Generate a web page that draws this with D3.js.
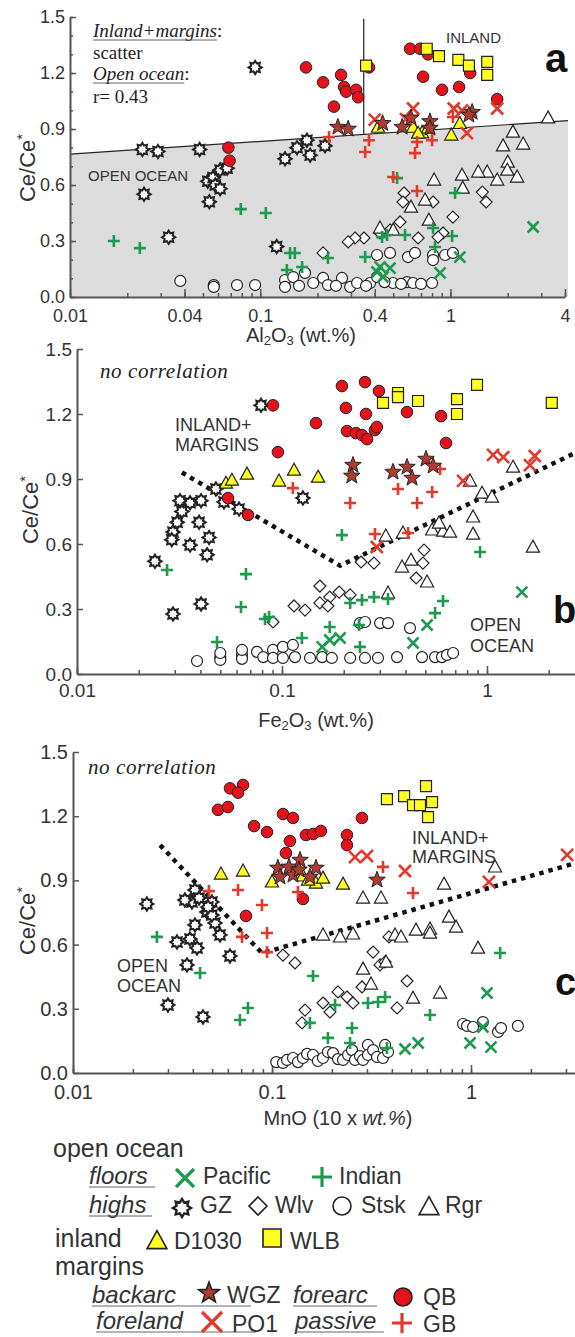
<!DOCTYPE html>
<meta charset="utf-8">
<style>
  body{margin:0;background:#fff;}
  svg text{font-family:"Liberation Sans", Arial, Helvetica, sans-serif;fill:#333;}
  svg text.serif{font-family:"Liberation Serif", "Times New Roman", serif;fill:#222;}
  .axis path.domain{stroke:#555;stroke-width:2;}
  .axis line{stroke:#555;stroke-width:1.5;}
  .axis text{fill:#333;}
</style>
<body>
<div id="chart"></div>
<script src="https://d3js.org/d3.v7.min.js"></script>
<script>

// tick labels
var yTicks = [0, 0.3, 0.6, 0.9, 1.2, 1.5];
var aTicks = [0.01, 0.04, 0.1, 0.4, 1, 4];
var bTicks = [0.01, 0.1, 1];
var cTicks = [0.01, 0.1, 1];

// panel a : Al2O3 (wt.%) vs Ce/Ce*
var aQB = [[0.068,0.80],[0.069,0.73],[0.174,1.23],[0.214,1.15],[0.266,1.19],[0.276,1.125],[0.283,1.10],[0.319,1.11],[0.327,1.07],[0.244,1.02],[0.373,1.23],[0.613,1.33],[0.692,1.33],[0.762,1.30],[0.718,1.18],[0.903,1.11],[1.11,1.125],[1.27,1.20],[1.76,1.06]];
var aWLB = [[0.36,1.24],[0.75,1.33],[0.87,1.29],[1.10,1.27],[1.25,1.24],[1.56,1.26],[1.56,1.19]];
var aD1030 = [[0.416,0.91],[0.636,0.91],[0.709,0.88],[0.762,0.905],[0.676,0.878],[1.01,0.868],[1.12,0.93]];
var aWGZ = [[0.256,0.91],[0.29,0.90],[0.44,0.93],[0.557,0.91],[0.62,0.96],[0.78,0.94],[0.78,0.905],[1.30,0.99],[1.25,0.975]];
var aPO1 = [[0.636,1.01],[0.40,0.95],[1.04,1.01],[1.15,1.0],[1.76,1.01],[1.22,0.878],[0.584,0.953]];
var aGB = [[0.23,0.857],[0.373,0.84],[0.356,0.777],[0.667,0.83],[0.80,0.84],[0.651,0.771],[0.50,0.643],[0.667,0.568],[1.03,0.964]];
var aGZ = [[0.094,1.23],[0.024,0.79],[0.029,0.78],[0.048,0.79],[0.0245,0.55],[0.033,0.32],[0.053,0.62],[0.0565,0.64],[0.0615,0.68],[0.067,0.69],[0.058,0.60],[0.0615,0.58],[0.054,0.51],[0.135,0.74],[0.122,0.27],[0.156,0.80],[0.176,0.84],[0.183,0.76],[0.219,0.81]];
var aRgr = [[3.26,0.96],[2.13,0.884],[1.89,0.81],[2.41,0.82],[2.0,0.723],[1.99,0.68],[2.24,0.643],[1.76,0.627],[1.56,0.67],[1.40,0.67],[1.15,0.653],[0.82,0.627],[1.16,0.584],[0.62,0.482],[0.735,0.52],[0.77,0.412],[0.426,0.37],[0.50,0.359]];
var aWlv = [[0.57,0.557],[0.563,0.509],[0.81,0.509],[1.47,0.562],[1.54,0.509],[1.03,0.428],[0.914,0.343],[0.676,0.316],[0.543,0.402],[0.481,0.359],[0.426,0.343],[0.351,0.316],[0.315,0.316],[0.29,0.295],[0.214,0.236],[0.861,0.321]];
var aIndian = [[0.017,0.30],[0.0233,0.262],[0.079,0.471],[0.107,0.45],[0.1435,0.236],[0.138,0.145],[0.524,0.637],[1.057,0.557],[0.81,0.37],[1.02,0.327],[0.577,0.332],[0.464,0.332],[0.437,0.321],[0.83,0.268],[0.356,0.214],[0.227,0.209],[0.152,0.236],[0.166,0.161]];
var aPacific = [[2.72,0.375],[1.12,0.214],[0.882,0.129],[0.411,0.134],[0.481,0.155],[0.442,0.107],[0.426,0.161]];
var aStsk = [[0.038,0.086],[0.057,0.064],[0.057,0.054],[0.0755,0.064],[0.094,0.064],[0.135,0.091],[0.135,0.054],[0.149,0.107],[0.172,0.129],[0.19,0.075],[0.214,0.102],[0.227,0.064],[0.269,0.102],[0.297,0.054],[0.323,0.075],[0.378,0.075],[0.411,0.107],[0.411,0.225],[0.481,0.236],[0.499,0.075],[0.591,0.08],[0.598,0.214],[0.651,0.236],[0.636,0.075],[0.81,0.225],[0.937,0.225],[0.80,0.075],[0.81,0.198],[1.03,0.236],[0.16,0.06],[0.25,0.06],[0.36,0.06],[0.45,0.08],[0.55,0.07],[0.7,0.07]];
var aBoundary = [[0.01,0.765],[4,0.945]];
var aDivide = 0.35;

// panel b : Fe2O3 (wt.%) vs Ce/Ce*
var bQB = [[0.0904,1.24],[0.0955,1.024],[0.0545,0.812],[0.0683,0.734],[0.196,1.329],[0.254,1.347],[0.297,1.306],[0.205,1.228],[0.257,1.20],[0.1465,1.158],[0.2075,1.121],[0.2295,1.112],[0.2455,1.103],[0.26,1.084],[0.284,1.126],[0.29,1.14],[0.407,1.209],[0.597,1.19],[0.631,1.066]];
var bWLB = [[0.368,1.297],[0.368,1.278],[0.311,1.251],[0.461,1.26],[0.714,1.269],[0.714,1.20],[0.894,1.334],[2.07,1.251]];
var bD1030 = [[0.0533,0.881],[0.057,0.895],[0.0675,0.923],[0.0967,0.891],[0.1145,0.941],[0.150,0.909]];
var bWGZ = [[0.222,0.964],[0.219,0.914],[0.348,0.932],[0.407,0.955],[0.431,0.904],[0.504,0.992],[0.546,0.96]];
var bPO1 = [[1.07,1.011],[1.20,1.001],[1.71,1.006],[1.62,0.964],[0.764,0.891],[0.29,0.586]];
var bGB = [[0.113,0.858],[0.215,0.789],[0.368,0.854],[0.54,0.84],[0.456,0.789],[0.59,0.946],[0.284,0.646],[0.412,0.651]];
var bGZ = [[0.079,1.24],[0.0318,0.80],[0.0356,0.79],[0.0403,0.80],[0.0325,0.75],[0.0308,0.70],[0.0294,0.655],[0.029,0.62],[0.0394,0.70],[0.0441,0.63],[0.0356,0.595],[0.0431,0.55],[0.024,0.52],[0.0294,0.277],[0.0403,0.323],[0.0476,0.854],[0.0521,0.794],[0.0617,0.761],[0.1265,0.812]];
var bRgr = [[1.34,0.955],[0.826,0.891],[0.946,0.835],[1.057,0.817],[0.855,0.725],[0.855,0.646],[0.321,0.637],[0.389,0.651],[0.54,0.665],[0.61,0.66],[0.66,0.655],[0.583,0.697],[0.426,0.526],[0.385,0.494],[0.51,0.425],[0.329,0.374],[1.675,0.586]];
var bWlv = [[0.0904,0.24],[0.243,0.517],[0.281,0.512],[0.493,0.572],[0.487,0.512],[0.451,0.443],[0.153,0.406],[0.1145,0.314],[0.1295,0.295],[0.153,0.328],[0.171,0.355],[0.19,0.378],[0.215,0.365],[0.1675,0.314]];
var bIndian = [[0.0275,0.48],[0.0667,0.461],[0.0631,0.309],[0.0826,0.254],[0.0865,0.263],[0.0482,0.148],[0.196,0.641],[0.925,0.563],[0.61,0.337],[0.558,0.281],[0.281,0.355],[0.329,0.346],[0.2455,0.341],[0.215,0.328],[0.171,0.217],[0.2375,0.226],[0.125,0.166],[0.24,0.125]];
var bPacific = [[1.48,0.378],[0.51,0.226],[0.436,0.143],[0.157,0.125],[0.171,0.157],[0.192,0.166]];
var bStsk = [[0.0385,0.06],[0.05,0.078],[0.05,0.065],[0.05,0.097],[0.0638,0.088],[0.0638,0.07],[0.0638,0.111],[0.0755,0.102],[0.081,0.078],[0.0904,0.111],[0.0904,0.074],[0.101,0.125],[0.101,0.074],[0.113,0.134],[0.1157,0.078],[0.137,0.074],[0.157,0.078],[0.175,0.074],[0.215,0.074],[0.254,0.074],[0.294,0.074],[0.364,0.078],[0.482,0.078],[0.558,0.078],[0.603,0.078],[0.638,0.088],[0.683,0.097],[0.24,0.235],[0.254,0.24],[0.301,0.235],[0.329,0.235],[0.421,0.212]];
var bTrend = [[0.0325,0.93],[0.192,0.50],[2.687,1.02]];

// panel c : MnO (10 x wt.%) vs Ce/Ce*
var cQB = [[0.0615,1.33],[0.0715,1.346],[0.0675,1.31],[0.0535,1.23],[0.060,1.243],[0.0813,1.154],[0.0944,1.126],[0.1135,1.21],[0.1275,1.192],[0.123,1.084],[0.1175,1.028],[0.148,1.112],[0.1607,1.117],[0.176,1.131],[0.238,1.112],[0.238,1.065],[0.283,1.192],[0.143,0.813],[0.074,0.734]];
var cWLB = [[0.378,1.28],[0.461,1.294],[0.594,1.341],[0.511,1.252],[0.554,1.252],[0.637,1.266],[0.608,1.196]];
var cD1030 = [[0.0554,0.93],[0.0715,0.944],[0.1,0.893],[0.143,0.921],[0.1663,0.888],[0.1804,0.911],[0.2274,0.883],[0.1517,0.902]];
var cWGZ = [[0.107,0.958],[0.1217,0.963],[0.1383,0.995],[0.1663,0.958],[0.1097,0.916],[0.1275,0.925],[0.155,0.916],[0.1367,0.949],[0.337,0.902]];
var cPO1 = [[0.2612,1.009],[0.300,1.014],[0.466,0.944],[1.23,0.893],[3.04,1.019]];
var cGB = [[0.0482,0.85],[0.0675,0.855],[0.089,0.785],[0.135,0.846],[0.0944,0.654],[0.0707,0.636],[0.0944,0.565],[0.361,0.963],[0.511,0.841]];
var cGZ = [[0.0235,0.79],[0.041,0.855],[0.0396,0.799],[0.043,0.818],[0.0499,0.799],[0.0471,0.752],[0.041,0.692],[0.0517,0.701],[0.0548,0.645],[0.042,0.584],[0.0333,0.612],[0.0387,0.626],[0.0374,0.505],[0.0615,0.547],[0.030,0.318],[0.045,0.262],[0.0499,0.738],[0.0477,0.776],[0.0365,0.808]];
var cRgr = [[1.32,0.963],[0.732,0.883],[0.2866,0.818],[0.353,0.818],[0.1804,0.645],[0.2197,0.636],[0.2553,0.65],[0.415,0.645],[0.445,0.636],[0.529,0.668],[0.622,0.673],[0.622,0.654],[0.775,0.729],[0.841,0.682],[1.084,0.584],[0.2866,0.486],[0.3143,0.416],[0.374,0.519],[0.511,0.35],[0.699,0.374]];
var cWlv = [[0.1135,0.551],[0.1305,0.514],[0.1465,0.294],[0.1415,0.234],[0.387,0.636],[0.322,0.565],[0.349,0.505],[0.37,0.519],[0.477,0.43],[0.2832,0.402],[0.2146,0.379],[0.2382,0.355],[0.2553,0.327],[0.1804,0.327],[0.1955,0.285],[0.425,0.304]];
var cIndian = [[0.0264,0.636],[0.0435,0.467],[0.0757,0.304],[0.069,0.248],[0.1607,0.453],[1.40,0.561],[0.622,0.271],[0.155,0.234],[0.191,0.164],[0.2523,0.21],[0.2073,0.318],[0.3034,0.327],[0.341,0.332],[0.37,0.355],[0.2466,0.14],[0.378,0.117]];
var cPacific = [[1.203,0.374],[0.989,0.14],[1.26,0.121],[0.542,0.14],[0.466,0.112],[1.148,0.215]];
var cStsk = [[0.105,0.051],[0.1135,0.047],[0.119,0.061],[0.1275,0.07],[0.135,0.051],[0.143,0.07],[0.15,0.089],[0.1607,0.084],[0.17,0.056],[0.1804,0.07],[0.191,0.098],[0.2026,0.093],[0.2146,0.065],[0.2274,0.061],[0.241,0.084],[0.2523,0.107],[0.2612,0.061],[0.2768,0.079],[0.2866,0.061],[0.3034,0.131],[0.3034,0.084],[0.322,0.107],[0.337,0.075],[0.361,0.07],[0.383,0.098],[0.37,0.131],[0.912,0.229],[0.955,0.22],[1.024,0.215],[1.148,0.238],[1.367,0.192],[1.415,0.21],[1.72,0.22]];
var cTrend = [[0.0274,1.065],[0.089,0.56],[3.33,0.98]];

// marker look per series (drawn in this order)
var styles = {
  Stsk:   {type:'circle',   fill:'#fff',    stroke:'#222',    sw:1.2, s:5.5},
  Wlv:    {type:'diamond',  fill:'#fff',    stroke:'#222',    sw:1.2, s:6},
  Rgr:    {type:'triangle', fill:'#fff',    stroke:'#222',    sw:1.2, s:6},
  Indian: {type:'plus',     fill:'none',    stroke:'#1d9a4e', sw:2.6, s:6},
  Pacific:{type:'cross',    fill:'none',    stroke:'#1d9a4e', sw:2.6, s:5.5},
  GZ:     {type:'gear',     fill:'#fff',    stroke:'#222',    sw:2,   s:5.5},
  QB:     {type:'circle',   fill:'#e5121b', stroke:'#222',    sw:1,   s:5.8},
  WLB:    {type:'square',   fill:'#ffff22', stroke:'#222',    sw:1.2, s:5.5},
  D1030:  {type:'triangle', fill:'#ffff22', stroke:'#222',    sw:1.2, s:6},
  GB:     {type:'plus',     fill:'none',    stroke:'#e3392c', sw:2.6, s:6},
  PO1:    {type:'cross',    fill:'none',    stroke:'#e3392c', sw:2.6, s:6},
  WGZ:    {type:'star',     fill:'#b13a30', stroke:'#222',    sw:1,   s:6}
};

function symbolPath(type, s){
  function poly(n, r1, r2, rot){
    return 'M' + d3.range(n*2).map(function(i){
      var a = rot + i*Math.PI/n, r = i%2 ? r2 : r1;
      return (r*Math.cos(a)).toFixed(2) + ',' + (r*Math.sin(a)).toFixed(2);
    }).join('L') + 'Z';
  }
  switch(type){
    case 'circle': return 'M'+s+',0A'+s+','+s+' 0 1,1 '+(-s)+',0A'+s+','+s+' 0 1,1 '+s+',0Z';
    case 'square': return 'M'+(-s)+','+(-s)+'h'+(2*s)+'v'+(2*s)+'h'+(-2*s)+'Z';
    case 'triangle': return 'M0,'+(-1.15*s)+'L'+(1.1*s)+','+(0.85*s)+'L'+(-1.1*s)+','+(0.85*s)+'Z';
    case 'diamond': return 'M0,'+(-s)+'L'+s+',0L0,'+s+'L'+(-s)+',0Z';
    case 'cross': return 'M'+(-s)+','+(-s)+'L'+s+','+s+'M'+(-s)+','+s+'L'+s+','+(-s);
    case 'plus': return 'M'+(-s)+',0H'+s+'M0,'+(-s)+'V'+s;
    case 'star': return poly(5, 1.45*s, 0.6*s, -Math.PI/2);
    case 'gear': return poly(8, 1.2*s, 0.78*s, 0);
  }
}

var svg = d3.select('#chart').append('svg').attr('width',575).attr('height',1337);

var panels = [
  {id:'a', xDomain:[0.01,4], xRange:[70,565], yRange:[297,17], ticks:aTicks, fs:18, xPad:12, minorY:true,
   series:{Stsk:aStsk, Wlv:aWlv, Rgr:aRgr, Indian:aIndian, Pacific:aPacific, GZ:aGZ, QB:aQB, WLB:aWLB, D1030:aD1030, GB:aGB, PO1:aPO1, WGZ:aWGZ},
   yTitle:[27,168], xTitle:{x:301, y:342, main:['Al','2','O','3'], tail:' (wt.%)'}},
  {id:'b', xDomain:[0.01,2.687], xRange:[77,575], yRange:[674,349], ticks:bTicks, fs:19, xPad:10, trend:bTrend,
   series:{Stsk:bStsk, Wlv:bWlv, Rgr:bRgr, Indian:bIndian, Pacific:bPacific, GZ:bGZ, QB:bQB, WLB:bWLB, D1030:bD1030, GB:bGB, PO1:bPO1, WGZ:bWGZ},
   yTitle:[30,510], xTitle:{x:316, y:727, main:['Fe','2','O','3'], tail:' (wt.%)'}},
  {id:'c', xDomain:[0.01,3.33], xRange:[73,575], yRange:[1073,752], ticks:cTicks, fs:20, xPad:12, trend:cTrend,
   series:{Stsk:cStsk, Wlv:cWlv, Rgr:cRgr, Indian:cIndian, Pacific:cPacific, GZ:cGZ, QB:cQB, WLB:cWLB, D1030:cD1030, GB:cGB, PO1:cPO1, WGZ:cWGZ},
   yTitle:[27,921], xTitle:{x:338, y:1125}}
];

panels.forEach(function(p){
  var g = svg.append('g').attr('class','panel-'+p.id);
  var x = d3.scaleLog().domain(p.xDomain).range(p.xRange);
  var y = d3.scaleLinear().domain([0,1.5]).range(p.yRange);
  var y0 = p.yRange[0];

  // open ocean field + divider (panel a only)
  if(p.id === 'a'){
    var lo = aBoundary[0], hi = aBoundary[1];
    g.append('path')
      .attr('d','M'+x(lo[0])+','+y(lo[1])+'L'+(x(hi[0])+3)+','+y(hi[1])+'L'+(x(hi[0])+3)+','+y(0)+'L'+x(lo[0])+','+y(0)+'Z')
      .attr('fill','#dcdcdc');
    g.append('line')
      .attr('x1',x(lo[0])).attr('y1',y(lo[1])).attr('x2',x(hi[0])+3).attr('y2',y(hi[1]))
      .attr('stroke','#222').attr('stroke-width',1.2);
    var t = Math.log(aDivide/lo[0]) / Math.log(hi[0]/lo[0]);
    g.append('line')
      .attr('x1',x(aDivide)).attr('x2',x(aDivide))
      .attr('y1',y(lo[1] + t*(hi[1]-lo[1]))).attr('y2',y(1.49))
      .attr('stroke','#222').attr('stroke-width',1.2);
  }

  // axes
  var xa = g.append('g').attr('class','axis').attr('transform','translate(0,'+y0+')');
  xa.call(d3.axisBottom(x).tickValues(x.ticks()).tickSize(-4).tickSizeOuter(0).tickFormat(''));
  var xb = g.append('g').attr('class','axis').attr('transform','translate(0,'+y0+')');
  xb.call(d3.axisBottom(x).tickValues(p.ticks).tickSize(-8).tickSizeOuter(0).tickPadding(p.xPad).tickFormat(d3.format('~g')));
  xb.select('.domain').remove();
  xb.selectAll('text').attr('font-size',p.fs);

  var ya = g.append('g').attr('class','axis').attr('transform','translate('+p.xRange[0]+',0)');
  ya.call(d3.axisLeft(y).tickValues(yTicks).tickSize(-6).tickSizeOuter(0).tickPadding(5).tickFormat(d3.format('.1f')));
  ya.selectAll('text').attr('font-size',p.fs);
  if(p.minorY){
    var ym = g.append('g').attr('class','axis').attr('transform','translate('+p.xRange[0]+',0)');
    ym.call(d3.axisLeft(y).tickValues(y.ticks(15)).tickSize(-3).tickSizeOuter(0).tickFormat(''));
    ym.select('.domain').remove();
  }

  // dotted field boundaries
  if(p.trend){
    g.append('path').datum(p.trend)
      .attr('d', d3.line().x(function(d){return x(d[0]);}).y(function(d){return y(d[1]);}))
      .attr('fill','none').attr('stroke','#111').attr('stroke-width',4.5).attr('stroke-dasharray','4.5,5');
  }

  // points
  Object.keys(styles).forEach(function(k){
    var st = styles[k];
    g.append('g').selectAll('path').data(p.series[k]).enter().append('path')
      .attr('transform',function(d){return 'translate('+x(d[0])+','+y(d[1])+')';})
      .attr('d', symbolPath(st.type, st.s))
      .attr('fill', st.fill).attr('stroke', st.stroke).attr('stroke-width', st.sw)
      .attr('stroke-linejoin','miter');
  });

  // y title
  var yt = g.append('text').attr('transform','translate('+p.yTitle[0]+','+p.yTitle[1]+') rotate(-90)')
    .attr('text-anchor','middle').attr('dy','0.35em').attr('font-size',22);
  yt.append('tspan').text('Ce/Ce');
  yt.append('tspan').attr('baseline-shift','super').attr('font-size',15).text('*');

  // x title
  var xt = g.append('text').attr('x',p.xTitle.x).attr('y',p.xTitle.y).attr('text-anchor','middle').attr('font-size',20);
  if(p.xTitle.main){
    var m = p.xTitle.main;
    xt.append('tspan').text(m[0]);
    xt.append('tspan').attr('font-size',13).attr('dy',3).text(m[1]);
    xt.append('tspan').attr('dy',-3).text(m[2]);
    xt.append('tspan').attr('font-size',13).attr('dy',3).text(m[3]);
    xt.append('tspan').attr('dy',-3).text(p.xTitle.tail);
  }else{
    xt.append('tspan').text('MnO (10 x ');
    xt.append('tspan').attr('font-style','italic').text('wt.%');
    xt.append('tspan').text(')');
  }
});

// panel annotations
function label(txt, x, y, size, cls){
  return svg.append('text').attr('x',x).attr('y',y).attr('font-size',size).attr('class',cls||null).text(txt);
}
function under(x1, x2, y){
  svg.append('line').attr('x1',x1).attr('x2',x2).attr('y1',y).attr('y2',y).attr('stroke','#666').attr('stroke-width',1.2);
}
function headed(txt, x, y){
  var t = label('', x, y, 19, 'serif');
  var span = t.append('tspan').attr('font-style','italic').text(txt);
  var w = span.node().getComputedTextLength();
  t.append('tspan').text(':');
  under(x, x + w, y + 3);
}

headed('Inland+margins', 93, 37);
label('scatter', 93, 59, 19, 'serif');
headed('Open ocean', 93, 80);
label('r= 0.43', 93, 103, 19, 'serif');
label('OPEN OCEAN', 88, 181, 15);
label('INLAND', 446, 43, 15);
label('a', 545, 72, 40).attr('font-weight','bold').style('fill','#111');

label('no correlation', 100, 378, 21, 'serif').attr('font-style','italic').attr('letter-spacing',0.6);
label('INLAND+', 175, 431, 18);
label('MARGINS', 175, 451, 18);
label('OPEN', 470, 631, 18);
label('OCEAN', 470, 652, 18);
label('b', 553, 623, 38).attr('font-weight','bold').style('fill','#111');

label('no correlation', 88, 774, 21, 'serif').attr('font-style','italic').attr('letter-spacing',0.6);
label('OPEN', 117, 972, 18);
label('OCEAN', 117, 992, 18);
label('INLAND+', 412, 844, 18);
label('MARGINS', 412, 863, 18);
label('c', 555, 995, 38).attr('font-weight','bold').style('fill','#111');

// legend
var legendHeads = [['open ocean',53,1157],['inland',55,1247],['margins',55,1275]];
var legendGroups = [['floors',89,1184,155],['highs',89,1213,152],['backarc',92,1303,251],['forearc',293,1303,377],['foreland',96,1329,256],['passive',295,1329,384]];
var legendItems = [
  ['Pacific',185,1178,9,203,1184],['Indian',322,1177,10,339,1184],
  ['GZ',182,1208,7.5,200,1213],['Wlv',258,1206,9,275,1213],['Stsk',342,1206,9,361,1213],['Rgr',429,1207,9,445,1213],
  ['D1030',157,1241,9,174,1249],['WLB',272,1238,9,290,1249],
  ['WGZ',209,1293,7.5,227,1303],['QB',403,1297,9,423,1305],
  ['PO1',212,1322,10,232,1332],['GB',402,1323,10,423,1332]
];

legendHeads.forEach(function(d){ label(d[0], d[1], d[2], 25); });
legendGroups.forEach(function(d){
  label(d[0], d[1], d[2], 24).attr('font-style','italic');
  under(d[1], d[3], d[2]+3);
});
legendItems.forEach(function(d){
  var st = styles[d[0]];
  svg.append('path').attr('transform','translate('+d[1]+','+d[2]+')')
    .attr('d', symbolPath(st.type, d[3]))
    .attr('fill', st.fill).attr('stroke', st.stroke)
    .attr('stroke-width', st.fill === 'none' ? 3.2 : (st.type === 'gear' ? 2.4 : 1.6));
  label(d[0], d[4], d[5], 23);
});

</script>
</body>
</html>
